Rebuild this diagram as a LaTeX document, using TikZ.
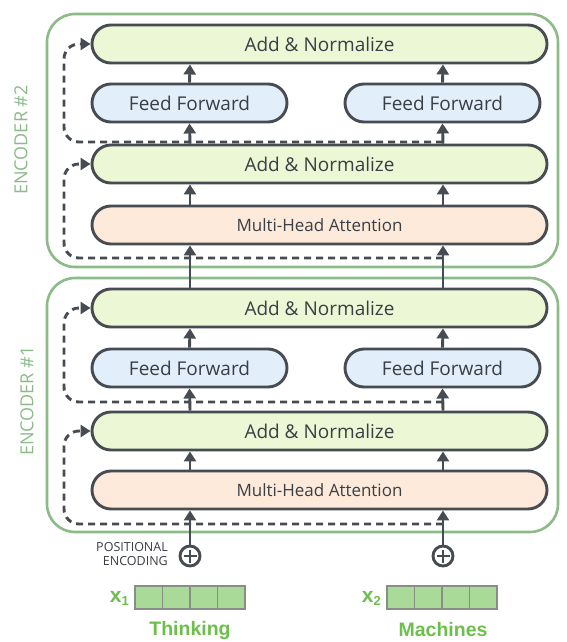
\documentclass[tikz,border=0pt]{standalone}
\usepackage{fontspec}
\setmainfont{Open Sans}
\newfontfamily\boxfont{Open Sans}
\newfontfamily\wordfont{Liberation Sans}
\usetikzlibrary{arrows.meta}
\definecolor{edge}{HTML}{474B52}
\definecolor{encg}{HTML}{8CBB88}
\definecolor{addf}{HTML}{ECF7D6}
\definecolor{fff}{HTML}{E2EEFA}
\definecolor{mhaf}{HTML}{FDEADB}
\definecolor{txt}{HTML}{3A3E45}
\definecolor{vecf}{HTML}{A9DA98}
\definecolor{vecd}{HTML}{868E86}
\definecolor{wordg}{HTML}{6DBF4B}
\begin{document}
\begin{tikzpicture}[x=1pt,y=-1pt,
 blk/.style={draw=edge, line width=2.9pt, rounded corners=19pt, minimum height=38pt, text=txt, inner sep=0pt},
 addn/.style={blk, fill=addf, minimum width=455pt, font=\boxfont\fontsize{19}{22}\selectfont},
 ffn/.style={blk, fill=fff, minimum width=195pt, font=\boxfont\fontsize{19}{22}\selectfont},
 mha/.style={blk, fill=mhaf, minimum width=455pt, font=\boxfont\fontsize{17}{20}\selectfont},
 enc/.style={draw=encg, line width=2.6pt, rounded corners=28pt, minimum width=511pt, inner sep=0pt},
 enclabel/.style={rotate=90, text=encg, font=\boxfont\fontsize{18}{20}\selectfont},
 arr/.style={draw=edge, line width=2.9pt, -{Triangle[length=10pt,width=12pt]}},
 res/.style={draw=edge, line width=2.9pt, dash pattern=on 7pt off 5pt, rounded corners=15pt, -{Triangle[length=10pt,width=12pt]}},
 plus/.style={circle, draw=edge, line width=2.9pt, minimum size=20pt, inner sep=0pt, fill=white,
   path picture={\draw[edge, line width=2.6pt]
     ([xshift=-6.5pt]path picture bounding box.center) -- ([xshift=6.5pt]path picture bounding box.center)
     ([yshift=-6.5pt]path picture bounding box.center) -- ([yshift=6.5pt]path picture bounding box.center);}},
 cell/.style={draw=vecd, line width=1.4pt, fill=vecf, minimum width=27.5pt, minimum height=23pt, inner sep=0pt},
 word/.style={text=wordg, font=\wordfont\bfseries\fontsize{19.5}{22}\selectfont},
 posenc/.style={text=txt, align=right, font=\boxfont\fontsize{12.5}{14}\selectfont, inner sep=0pt},
]
\useasboundingbox[fill=white] (0,0) rectangle (566,642);

% encoder containers
\node[enc, minimum height=253pt] (enc2) at (302.5,140.5) {};
\node[enc, minimum height=254pt] (enc1) at (302.5,405) {};
\node[enclabel] (lab2) at (21,140) {ENCODER \#2};
\node[enclabel] (lab1) at (27,401) {ENCODER \#1};

% columns
\coordinate (cL) at (190,0);
\coordinate (cR) at (443,0);
\coordinate (cD) at (64,0);

% encoder 2
\node[addn] (a2t) at (319.5,44) {Add \& Normalize};
\node[ffn] (f2l) at (189.5,103) {Feed Forward};
\node[ffn] (f2r) at (442.5,103) {Feed Forward};
\node[addn] (a2b) at (319.5,164) {Add \& Normalize};
\node[mha] (m2) at (319.5,225) {Multi-Head Attention};

% encoder 1
\node[addn] (a1t) at (319.5,308) {Add \& Normalize};
\node[ffn] (f1l) at (189.5,368) {Feed Forward};
\node[ffn] (f1r) at (442.5,368) {Feed Forward};
\node[addn] (a1b) at (319.5,431) {Add \& Normalize};
\node[mha] (m1) at (319.5,490) {Multi-Head Attention};

% residual start points
\coordinate (r2u) at (443,142);
\coordinate (r2l) at (443,258);
\coordinate (r1u) at (443,402);
\coordinate (r1l) at (443,524);

% residual dashed connections
\draw[res] (r2u) -- (cD |- r2u) -- (cD |- a2t.west) -- (a2t.west);
\draw[res] (r2l) -- (cD |- r2l) -- (cD |- a2b.west) -- (a2b.west);
\draw[res] (r1u) -- (cD |- r1u) -- (cD |- a1t.west) -- (a1t.west);
\draw[res] (r1l) -- (cD |- r1l) -- (cD |- a1b.west) -- (a1b.west);

% inputs
\node[plus] (p1) at (190,556) {};
\node[plus] (p2) at (443,556) {};
\node[posenc, anchor=east] (pe) at (168,554) {POSITIONAL\\ENCODING};

% solid arrows, both columns
\foreach \c/\f/\g/\p in {cL/f1l/f2l/p1, cR/f1r/f2r/p2}{
  \draw[arr] (\p.north) -- (\c |- m1.south);
  \draw[arr] (\c |- m1.north) -- (\c |- a1b.south);
  \draw[arr] (\c |- a1b.north) -- (\f.south);
  \draw[arr] (\f.north) -- (\c |- a1t.south);
  \draw[arr] (\c |- a1t.north) -- (\c |- m2.south);
  \draw[arr] (\c |- m2.north) -- (\c |- a2b.south);
  \draw[arr] (\c |- a2b.north) -- (\g.south);
  \draw[arr] (\g.north) -- (\c |- a2t.south);
}

% embedding vectors
\foreach \i in {0,1,2,3}{
  \node[cell] (va\i) at (148.75+27.5*\i,597.5) {};
  \node[cell] (vb\i) at (400.75+27.5*\i,597.5) {};
}
\node[text=wordg, anchor=east, inner sep=0pt, font=\wordfont\bfseries] (x1) at (129,598)
  {\fontsize{21}{22}\selectfont x\raisebox{-3pt}{\fontsize{13}{14}\selectfont 1}};
\node[text=wordg, anchor=east, inner sep=0pt, font=\wordfont\bfseries] (x2) at (381,598)
  {\fontsize{21}{22}\selectfont x\raisebox{-3pt}{\fontsize{13}{14}\selectfont 2}};
\node[word] (w1) at (190,630) {Thinking};
\node[word] (w2) at (443,630) {Machines};
\end{tikzpicture}
\end{document}
